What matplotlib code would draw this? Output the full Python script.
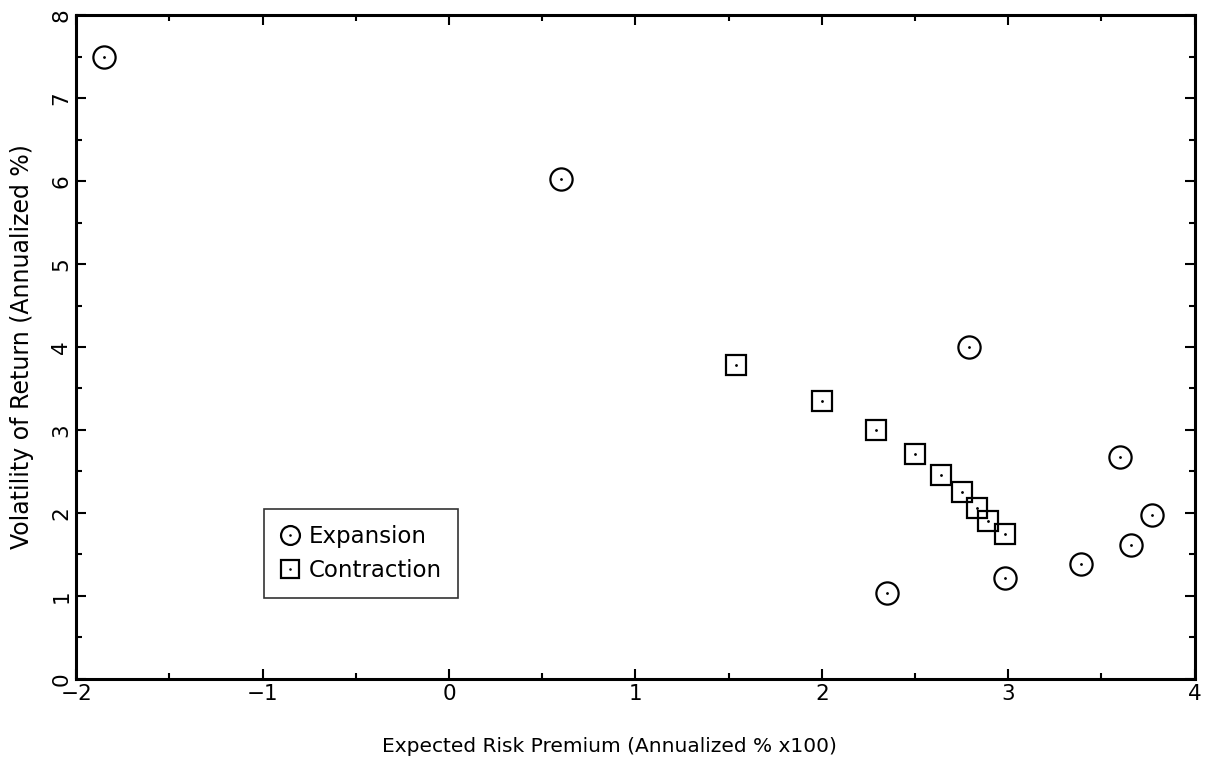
import matplotlib
matplotlib.use('Agg')
import matplotlib.pyplot as plt
from matplotlib.ticker import MultipleLocator

######################################################
# Data
######################################################

exp_x = [-1.85, 0.60, 2.79, 2.35, 2.98, 3.39, 3.66, 3.77, 3.60]
exp_y = [7.50, 6.02, 4.00, 1.04, 1.21, 1.38, 1.61, 1.98, 2.68]

con_x = [1.54, 2.00, 2.29, 2.50, 2.64, 2.75, 2.83, 2.89, 2.98]
con_y = [3.78, 3.35, 3.00, 2.71, 2.46, 2.25, 2.06, 1.90, 1.75]

x_ticks = [-2, -1, 0, 1, 2, 3, 4]
y_ticks = [0, 1, 2, 3, 4, 5, 6, 7, 8]

######################################################
# Plot
######################################################

plt.rcParams['font.family'] = ['DejaVu Sans']

fig = plt.figure(figsize=(12.08, 7.61), dpi=100)
ax = fig.add_axes([0.063, 0.108, 0.926, 0.872])

circ = ax.plot(exp_x, exp_y, 'o', ms=16, mfc='none', mec='black', mew=1.6)[0]
sq = ax.plot(con_x, con_y, 's', ms=14.5, mfc='none', mec='black', mew=1.6)[0]
dot = ax.plot(exp_x + con_x, exp_y + con_y, '.', ms=2, color='black')[0]

ax.set_xlim(-2, 4)
ax.set_ylim(0, 8)
ax.set_xticks(x_ticks)
ax.set_yticks(y_ticks)
ax.set_xticklabels([str(t).replace('-', '\u2212') for t in x_ticks])
ax.xaxis.set_minor_locator(MultipleLocator(0.5))
ax.yaxis.set_minor_locator(MultipleLocator(0.5))
ax.tick_params(which='both', direction='in', top=True, right=True, width=1.5)
ax.tick_params(which='major', length=7, labelsize=15.5)
ax.tick_params(which='minor', length=4)
ax.tick_params(axis='y', labelrotation=90)
for lab in ax.get_yticklabels():
    lab.set_va('center')
for s in ax.spines.values():
    s.set_linewidth(2.2)

ax.set_xlabel('Expected Risk Premium (Annualized % x100)', fontsize=14.5)
ax.xaxis.set_label_coords(0.477, -0.087)
ax.set_ylabel('Volatility of Return (Annualized %)', fontsize=17)
ax.yaxis.set_label_coords(-0.038, 0.5)

leg = ax.legend([(circ, dot), (sq, dot)], ['Expansion', 'Contraction'],
                loc='lower left', bbox_to_anchor=(0.168, 0.122), fontsize=16.5,
                markerscale=0.85, handlelength=0.9, handletextpad=0.35,
                fancybox=False, frameon=True, edgecolor='black',
                borderpad=0.7, labelspacing=0.45, borderaxespad=0)
leg.get_frame().set_linewidth(1.2)

fig.savefig('out.png', dpi=100)
